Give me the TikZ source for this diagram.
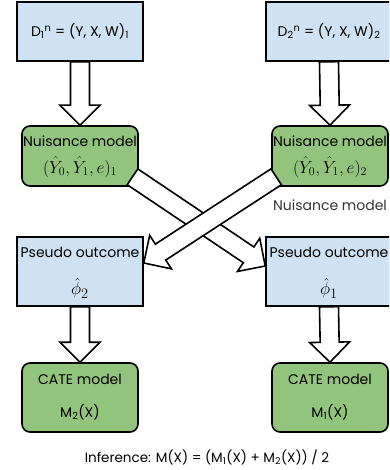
\documentclass[tikz,border=0pt]{standalone}
\usepackage{fontspec}
\setmainfont{Poppins}
\usetikzlibrary{calc}
\definecolor{boxblue}{HTML}{CFE2F3}
\definecolor{boxgreen}{HTML}{93C47D}
\definecolor{labelgray}{HTML}{333333}
\tikzset{
  bluebox/.style={draw=black, line width=1.6pt, fill=boxblue, minimum width=126pt, inner sep=0pt},
  greenbox/.style={draw=black, line width=1.6pt, fill=boxgreen, rounded corners=8pt, minimum width=116pt, inner sep=0pt},
  txt/.style={font=\fontsize{14}{16}\selectfont, inner sep=0pt},
  inftxt/.style={font=\fontsize{13.5}{15}\selectfont, inner sep=0pt},
  mathtxt/.style={font=\fontsize{17}{19}\selectfont, inner sep=0pt},
  phitxt/.style={font=\fontsize{19}{21}\selectfont, inner sep=0pt},
  arrowbody/.style={draw=black, line width=1.6pt, fill=white, line join=miter},
}
\newcommand\fatarr[2]{%
  \coordinate (ah) at ($(#2)!20pt!(#1)$);
  \draw[arrowbody] ($(#1)!9.5pt!90:(#2)$) -- ($(ah)!9.5pt!90:(#2)$) -- ($(ah)!20pt!90:(#2)$) -- (#2)
    -- ($(ah)!20pt!-90:(#2)$) -- ($(ah)!9.5pt!-90:(#2)$) -- ($(#1)!9.5pt!-90:(#2)$) -- cycle;
}
\begin{document}
\begin{tikzpicture}[x=1pt, y=1pt]
\useasboundingbox (0,0) rectangle (389,-470);
\clip (0,0) rectangle (389,-470);
% boxes
\node[bluebox, minimum height=59pt] (d1) at (80,-31.5) {};
\node[bluebox, minimum height=59pt] (d2) at (329,-31.5) {};
\node[greenbox, minimum height=60pt] (n1) at (80,-156) {};
\node[greenbox, minimum height=60pt] (n2) at (330,-156) {};
\node[bluebox, minimum height=69pt] (p1) at (80,-271.5) {};
\node[bluebox, minimum height=69pt] (p2) at (329,-271.5) {};
\node[greenbox, minimum height=69pt] (c1) at (80,-397.5) {};
\node[greenbox, minimum height=69pt] (c2) at (330,-397.5) {};
% texts
\node[txt] (d1t) at (d1) {D\textsubscript{1}\textsuperscript{n} = (Y, X, W)\textsubscript{1}};
\node[txt] (d2t) at (d2) {D\textsubscript{2}\textsuperscript{n} = (Y, X, W)\textsubscript{2}};
\node[txt] (n1a) at ($(n1.north)+(0,-16)$) {Nuisance model};
\node[mathtxt] (n1b) at ($(n1.north)+(0,-42)$) {$(\hat{Y}_0,\hat{Y}_1,e)_1$};
\node[txt] (n2a) at ($(n2.north)+(0,-16)$) {Nuisance model};
\node[mathtxt] (n2b) at ($(n2.north)+(0,-42)$) {$(\hat{Y}_0,\hat{Y}_1,e)_2$};
\node[txt, text=labelgray] (nl) at (330,-205) {Nuisance model};
\node[txt] (p1a) at ($(p1.north)+(0,-16)$) {Pseudo outcome};
\node[phitxt] (p1b) at ($(p1.north)+(0,-52)$) {$\hat{\phi}_2$};
\node[txt] (p2a) at ($(p2.north)+(0,-16)$) {Pseudo outcome};
\node[phitxt] (p2b) at ($(p2.north)+(0,-52)$) {$\hat{\phi}_1$};
\node[txt] (c1a) at ($(c1.north)+(0,-17)$) {CATE model};
\node[txt] (c1b) at ($(c1.north)+(0,-50)$) {M\textsubscript{2}(X)};
\node[txt] (c2a) at ($(c2.north)+(0,-17)$) {CATE model};
\node[txt] (c2b) at ($(c2.north)+(0,-50)$) {M\textsubscript{1}(X)};
\node[inftxt] (inf) at (207,-457) {Inference: M(X) = (M\textsubscript{1}(X) + M\textsubscript{2}(X)) / 2};
% arrows
\fatarr{d1.south}{n1.north}
\fatarr{d2.south}{n2.north}
\fatarr{p1.south}{c1.north}
\fatarr{p2.south}{c2.north}
\coordinate (t1) at ($(n1.south east)+(-6.3,10)$);
\coordinate (e1) at ($(p2.west)+(0,5.5)$);
\coordinate (t2) at ($(n2.south west)+(5,10)$);
\coordinate (e2) at ($(p1.east)+(0,8.5)$);
\fatarr{t1}{e1}
\fatarr{t2}{e2}
\end{tikzpicture}
\end{document}
